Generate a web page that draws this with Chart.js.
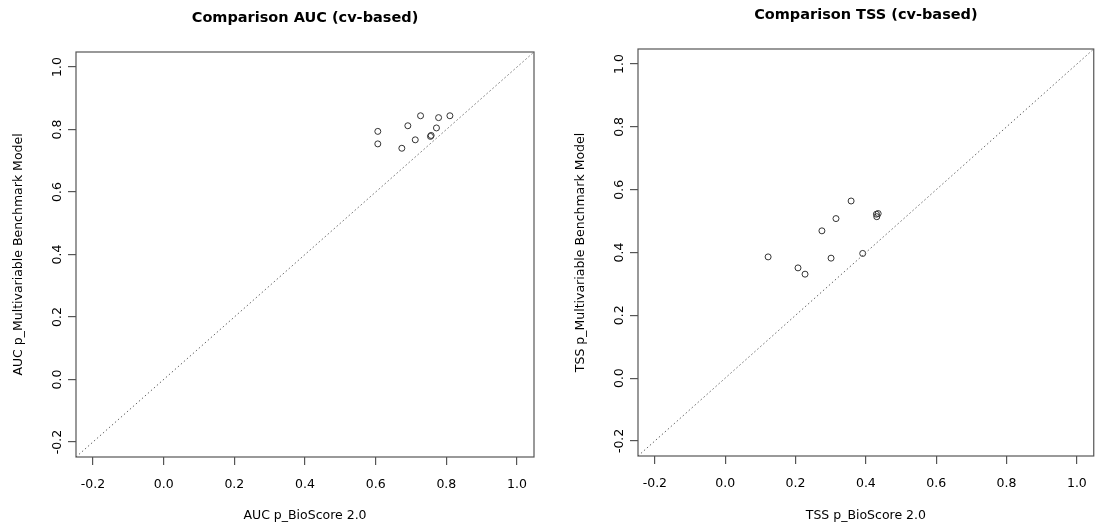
<!DOCTYPE html>
<html>
<head>
<meta charset="utf-8">
<script src="https://cdn.jsdelivr.net/npm/chart.js@4"></script>
<style>
  body { margin: 0; background: #fff; }
  .panel { position: absolute; top: 0; height: 528px; }
</style>
</head>
<body>
<div class="panel" style="left:0px;width:549px"><canvas id="aucChart" width="549" height="528"></canvas></div>
<div class="panel" style="left:561px;width:538px"><canvas id="tssChart" width="538" height="528"></canvas></div>
<script>
// axis settings shared by both panels (R style: limits -0.2..1 plus 4%)
const axisMin = -0.248;
const axisMax = 1.048;
const tickValues = [-0.2, 0.0, 0.2, 0.4, 0.6, 0.8, 1.0];

// AUC comparison (x = BioScore 2.0, y = multivariable benchmark)
const aucBioScore = [0.606, 0.606, 0.674, 0.691, 0.727, 0.712, 0.755, 0.757, 0.772, 0.778, 0.810];
const aucBenchmark = [0.794, 0.754, 0.740, 0.812, 0.844, 0.767, 0.778, 0.781, 0.805, 0.838, 0.844];

// TSS comparison
const tssBioScore = [0.358, 0.430, 0.435, 0.431, 0.315, 0.275, 0.122, 0.301, 0.391, 0.207, 0.227];
const tssBenchmark = [0.564, 0.522, 0.524, 0.514, 0.508, 0.469, 0.386, 0.382, 0.397, 0.351, 0.331];

const fontFamily = '"DejaVu Sans", sans-serif';
const lineColor = '#555';

// draws the closed box round the plot region like R's box()
const boxPlugin = {
    id: 'rbox',
    afterDatasetsDraw(chart) {
        const { ctx, chartArea } = chart;
        ctx.save();
        ctx.strokeStyle = lineColor;
        ctx.lineWidth = 1.2;
        ctx.strokeRect(chartArea.left, chartArea.top, chartArea.right - chartArea.left, chartArea.bottom - chartArea.top);
        ctx.restore();
    }
};

function makePoints(xs, ys) {
    return xs.map((x, i) => ({ x: x, y: ys[i] }));
}

function drawComparison(canvasId, cfg) {
    const ctx = document.getElementById(canvasId).getContext('2d');
    const tickFont = { family: fontFamily, size: 12.5 };

    return new Chart(ctx, {
        type: 'scatter',
        data: {
            datasets: [
                {
                    // 1:1 reference line
                    data: [{ x: axisMin, y: axisMin }, { x: axisMax, y: axisMax }],
                    showLine: true,
                    pointRadius: 0,
                    borderColor: '#666',
                    borderWidth: 1,
                    borderDash: [1.5, 2.5]
                },
                {
                    data: makePoints(cfg.xs, cfg.ys),
                    pointStyle: 'circle',
                    pointRadius: 3,
                    pointBorderWidth: 1,
                    pointBorderColor: '#333',
                    pointBackgroundColor: 'rgba(0,0,0,0)'
                }
            ]
        },
        options: {
            responsive: false,
            animation: false,
            layout: { padding: { left: 0, right: cfg.padRight, top: 0, bottom: 0 } },
            plugins: {
                legend: { display: false },
                tooltip: { enabled: false },
                title: {
                    display: true,
                    text: cfg.title,
                    fullSize: false,
                    color: '#000',
                    font: { family: fontFamily, size: 14.5, weight: 'bold', lineHeight: 1.2 },
                    padding: { top: cfg.titleTop, bottom: 25.3 }
                }
            },
            scales: {
                x: {
                    type: 'linear',
                    min: axisMin,
                    max: axisMax,
                    afterBuildTicks: scale => { scale.ticks = tickValues.map(v => ({ value: v })); },
                    afterFit: scale => { scale.height = 528 - cfg.bottom; },
                    grid: { display: true, drawOnChartArea: false, drawTicks: true, tickLength: 8, color: lineColor, lineWidth: 1.2 },
                    border: { display: false },
                    ticks: {
                        font: tickFont,
                        color: '#000',
                        padding: 12,
                        autoSkip: false,
                        maxRotation: 0,
                        callback: v => v.toFixed(1)
                    },
                    title: {
                        display: true,
                        text: cfg.xLabel,
                        color: '#000',
                        font: { family: fontFamily, size: 12.5, lineHeight: 1.2 },
                        padding: { top: 0, bottom: 4.5 }
                    }
                },
                y: {
                    type: 'linear',
                    min: axisMin,
                    max: axisMax,
                    afterBuildTicks: scale => { scale.ticks = tickValues.map(v => ({ value: v })); },
                    afterFit: scale => { scale.width = cfg.yWidth; },
                    grid: { display: true, drawOnChartArea: false, drawTicks: true, tickLength: 8, color: lineColor, lineWidth: 1.2 },
                    border: { display: false },
                    ticks: {
                        font: tickFont,
                        color: '#000',
                        padding: -1.5,
                        autoSkip: false,
                        minRotation: 90,
                        maxRotation: 90,
                        crossAlign: 'center',
                        callback: v => v.toFixed(1)
                    },
                    title: {
                        display: true,
                        text: cfg.yLabel,
                        color: '#000',
                        font: { family: fontFamily, size: 12.5, lineHeight: 1.2 },
                        padding: { top: cfg.yTitlePad, bottom: 0 }
                    }
                }
            }
        },
        plugins: [boxPlugin]
    });
}

drawComparison('aucChart', {
    title: 'Comparison AUC (cv-based)',
    xLabel: 'AUC p_BioScore 2.0',
    yLabel: 'AUC p_Multivariable Benchmark Model',
    xs: aucBioScore,
    ys: aucBenchmark,
    padRight: 15,
    titleTop: 9.3,
    bottom: 457,
    yWidth: 76,
    yTitlePad: 11.5
});

drawComparison('tssChart', {
    title: 'Comparison TSS (cv-based)',
    xLabel: 'TSS p_BioScore 2.0',
    yLabel: 'TSS p_Multivariable Benchmark Model',
    xs: tssBioScore,
    ys: tssBenchmark,
    padRight: 1.5,
    titleTop: 6.3,
    bottom: 456,
    yWidth: 77,
    yTitlePad: 12.5
});
</script>
</body>
</html>
